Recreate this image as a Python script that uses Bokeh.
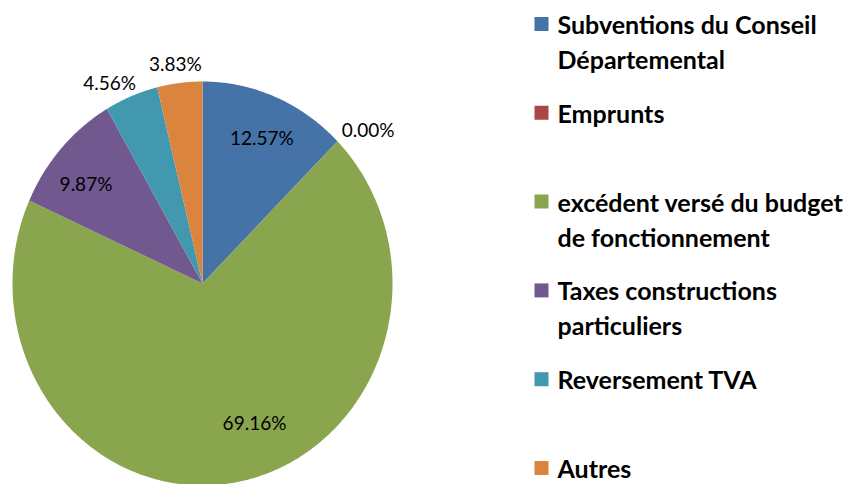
import numpy as np
from bokeh.plotting import figure
from bokeh.models import Range1d
from bokeh.core.properties import value
from bokeh.embed import file_html
from bokeh.resources import INLINE

# ---- data ----
categories = ["Subventions du Conseil\nDépartemental", "Emprunts",
              "excédent versé du budget\nde fonctionnement",
              "Taxes constructions\nparticuliers", "Reversement TVA", "Autres"]
shares = [12.57, 0.00, 69.16, 9.87, 4.56, 3.83]
pct_labels = ["12.57%", "0.00%", "69.16%", "9.87%", "4.56%", "3.83%"]
colors = ["#4572A7", "#AA4643", "#89A54E", "#71588F", "#4198AF", "#DB843D"]

# ---- layout / style ----
OFF = 0                    # page offset of the figure
W, H = 846, 484
CX, CY = 202, 283          # pie centre in page pixels
RX, RY = 190, 202          # pie radii in pixels
label_r = [0.785, 1.16, 0.74, 0.79, 1.109, 1.098]
label_dx = [2, 9, 27, -5, -14, -2]      # px, right
label_dy = [0, 11, -8, 7, 7, 0]         # px, down
FONT = value("Lato")

p = figure(width=W, height=H, output_backend="svg", toolbar_location=None,
           x_range=Range1d((OFF - CX) / RX, (OFF + W - CX) / RX),
           y_range=Range1d((CY - OFF - H) / RY, (CY - OFF) / RY),
           min_border=0, outline_line_color=None,
           x_axis_location=None, y_axis_location=None)
p.grid.visible = False
p.extra_x_ranges = {"px": Range1d(OFF, OFF + W)}
p.extra_y_ranges = {"px": Range1d(OFF + H, OFF)}

total = sum(shares)
fr = np.array(shares) / total * 360.0
ends = np.cumsum(fr)
starts = ends - fr
mids = (starts + ends) / 2

xs, ys, fc = [], [], []
for s, e, c in zip(starts, ends, colors):
    if e - s <= 0:
        continue
    th = np.radians(np.linspace(s, e, max(3, int((e - s) * 2))))
    xs.append(np.concatenate([[0], np.sin(th), [0]]))
    ys.append(np.concatenate([[0], np.cos(th), [0]]))
    fc.append(c)
p.patches(xs, ys, fill_color=fc, line_color=None)

m = np.radians(mids)
lx = np.array(label_r) * np.sin(m) + np.array(label_dx) / RX
ly = np.array(label_r) * np.cos(m) - np.array(label_dy) / RY
p.text(lx, ly, text=pct_labels, text_font=FONT, text_font_size="19px",
       text_align="center", text_baseline="middle", text_color="#000000")

# ---- legend ----
LEG_X, LEG_Y0, LEG_STEP = 541, 23.5, 88.8
LINE_H = 35
sq_x, sq_y = [], []
tx, ty, tt = [], [], []
for i, (cat, c) in enumerate(zip(categories, colors)):
    yc = LEG_Y0 + i * LEG_STEP
    sq_x.append(LEG_X); sq_y.append(yc)
    for j, line in enumerate(cat.split("\n")):
        tx.append(LEG_X + 16); ty.append(yc + j * LINE_H); tt.append(line)
p.scatter(sq_x, sq_y, marker="square", size=14, fill_color=colors, line_color=None,
          x_range_name="px", y_range_name="px")
p.text(tx, ty, text=tt, text_font=FONT, text_font_style="bold", text_font_size="25px",
       text_align="left", text_baseline="middle", text_color="#000000",
       x_range_name="px", y_range_name="px")

open("out.html", "w").write(file_html(p, INLINE))
